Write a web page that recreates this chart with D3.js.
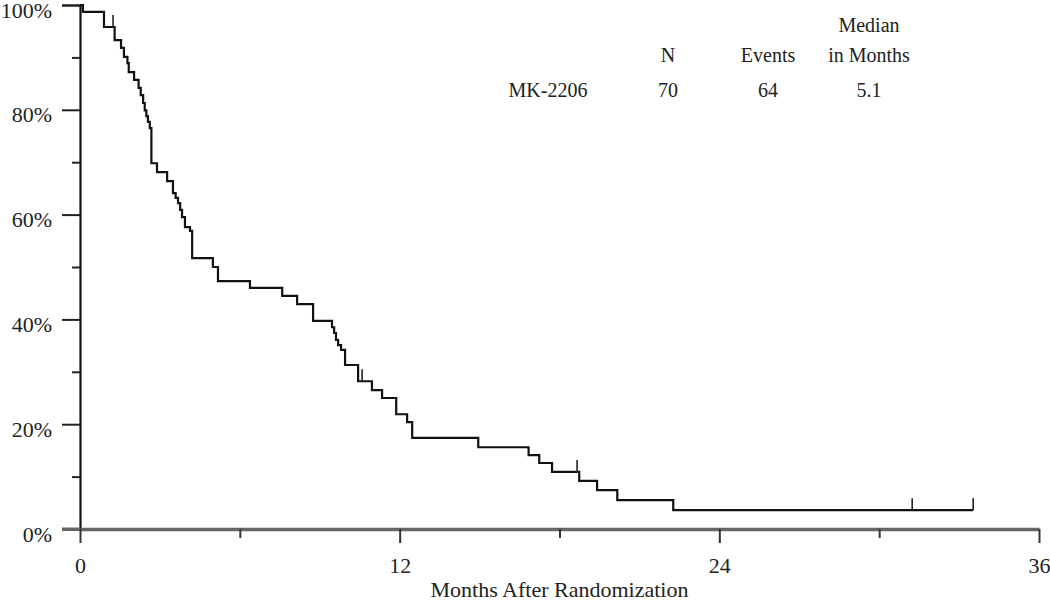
<!DOCTYPE html>
<html>
<head>
<meta charset="utf-8">
<script src="https://cdn.jsdelivr.net/npm/d3@7"></script>
<style>
  html, body { margin: 0; padding: 0; background: #fff; }
  svg { display: block; }
  text { font-family: "Liberation Serif", "Times New Roman", serif; fill: #222; }
</style>
</head>
<body>
<svg id="chart" width="1050" height="600"></svg>
<script>
// ---- Data ----
const eventTimes = [0, 0.11, 0.90, 1.30, 1.54, 1.65, 1.78, 1.83, 2.03, 2.20, 2.28, 2.37, 2.43, 2.49, 2.55, 2.62, 2.68,
  2.89, 3.27, 3.49, 3.59, 3.68, 3.76, 3.83, 3.94, 4.13, 4.21, 4.99, 5.18, 6.38, 7.59, 8.15, 8.75,
  9.46, 9.54, 9.61, 9.69, 9.80, 9.95, 10.44, 10.96, 11.34, 11.87, 12.28, 12.47, 14.95, 16.84, 17.24,
  17.72, 18.74, 19.41, 20.17, 22.27, 33.53];
const survivalPct = [100, 98.7, 95.8, 93.3, 91.8, 90.1, 88.9, 87.2, 85.7, 84.2, 82.8, 81.3, 79.9, 78.8, 77.7, 76.5, 69.8,
  68.1, 66.4, 64.1, 63.2, 62.2, 60.9, 59.5, 57.6, 56.9, 51.7, 50.0, 47.3, 46.0, 44.5, 42.9, 39.7,
  38.5, 37.4, 36.1, 35.1, 34.2, 31.3, 28.2, 26.5, 25.0, 21.9, 20.4, 17.4, 15.6, 14.1, 12.6,
  10.9, 9.2, 7.4, 5.5, 3.6, 3.6];
const censorTimes = [1.24, 10.59, 18.66, 31.24, 33.53];
const censorPct = [95.8, 28.2, 10.9, 3.6, 3.6];

const xMajorTicks = [0, 12, 24, 36];
const xMinorTicks = [6, 18, 30];
const yMajorTicks = [0, 20, 40, 60, 80, 100];
const yMinorTicks = [10, 30, 50, 70, 90];
const xTitle = "Months After Randomization";

const legendHeaderTop = ["", "", "", "Median"];
const legendHeader = ["", "N", "Events", "in Months"];
const legendRow = ["MK-2206", "70", "64", "5.1"];

// ---- Drawing ----
const svg = d3.select("#chart");
const x = d3.scaleLinear().domain([0, 36]).range([80, 1039]);
const y = d3.scaleLinear().domain([0, 100]).range([529, 5]);

// Y axis (major)
const yAxisMajor = d3.axisLeft(y).tickValues(yMajorTicks).tickSize(18).tickPadding(10)
  .tickFormat(d => d + "%");
const gy = svg.append("g").attr("transform", "translate(80,0)").call(yAxisMajor);
gy.select(".domain").attr("stroke", "#111").attr("stroke-width", 2.2);
gy.selectAll(".tick line").attr("stroke", "#222").attr("stroke-width", 2);
gy.selectAll(".tick text").attr("font-size", 22).attr("dy", "0.55em")
  .style("font-family", '"Liberation Serif", serif').attr("fill", "#222");

const yAxisMinor = d3.axisLeft(y).tickValues(yMinorTicks).tickSize(8).tickFormat("");
const gy2 = svg.append("g").attr("transform", "translate(80,0)").call(yAxisMinor);
gy2.select(".domain").remove();
gy2.selectAll(".tick line").attr("stroke", "#222").attr("stroke-width", 2);

// X axis (major)
const xAxisMajor = d3.axisBottom(x).tickValues(xMajorTicks).tickSize(14).tickPadding(14)
  .tickSizeOuter(0).tickFormat(d3.format("d"));
const gx = svg.append("g").attr("transform", "translate(0,529)").call(xAxisMajor);
gx.select(".domain").attr("stroke", "#666").attr("stroke-width", 3.5);
gx.selectAll(".tick line").attr("stroke", "#333").attr("stroke-width", 2);
gx.selectAll(".tick text").attr("font-size", 22)
  .style("font-family", '"Liberation Serif", serif').attr("fill", "#222");

const xAxisMinor = d3.axisBottom(x).tickValues(xMinorTicks).tickSize(9).tickSizeOuter(0).tickFormat("");
const gx2 = svg.append("g").attr("transform", "translate(0,529)").call(xAxisMinor);
gx2.select(".domain").remove();
gx2.selectAll(".tick line").attr("stroke", "#333").attr("stroke-width", 2);

// extend axis line to the left (0% tick)
svg.append("line").attr("x1", 62).attr("x2", x(0)).attr("y1", y(0)).attr("y2", y(0))
  .attr("stroke", "#666").attr("stroke-width", 3);

// X title
svg.append("text").attr("x", (x(0) + x(36)) / 2).attr("y", 597)
  .attr("text-anchor", "middle").attr("font-size", 22).text(xTitle);

// KM step curve
const pts = eventTimes.map((t, i) => [t, survivalPct[i]]);
const line = d3.line().x(d => x(d[0])).y(d => y(d[1])).curve(d3.curveStepAfter);
svg.append("path").datum(pts).attr("d", line)
  .attr("fill", "none").attr("stroke", "#111").attr("stroke-width", 2.2);

// Censor marks
svg.selectAll(".censor").data(censorTimes.map((t, i) => [t, censorPct[i]])).enter()
  .append("line").attr("class", "censor")
  .attr("x1", d => x(d[0])).attr("x2", d => x(d[0]))
  .attr("y1", d => y(d[1])).attr("y2", d => y(d[1]) - 12)
  .attr("stroke", "#222").attr("stroke-width", 1.6);

// Legend table
const colX = [548, 668, 768, 869];
const legendRows = [[legendHeaderTop, 32], [legendHeader, 62], [legendRow, 97]];
legendRows.forEach(([row, yy]) => {
  row.forEach((txt, i) => {
    if (!txt) return;
    svg.append("text").attr("x", colX[i]).attr("y", yy)
      .attr("text-anchor", "middle").attr("font-size", 20).text(txt);
  });
});
</script>
</body>
</html>
